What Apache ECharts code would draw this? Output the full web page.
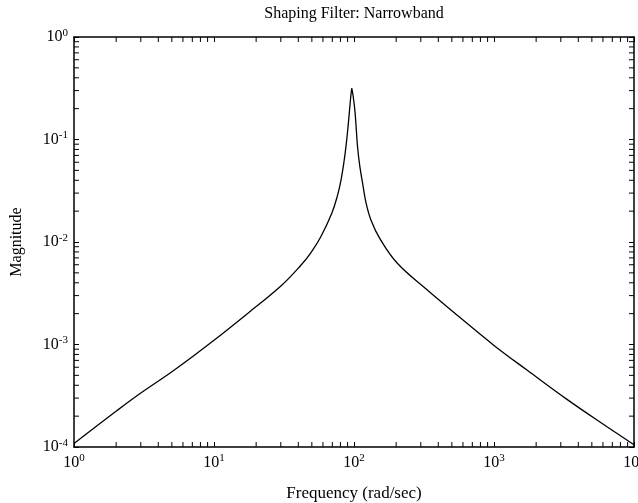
<!DOCTYPE html>
<html>
<head>
<meta charset="utf-8">
<script src="https://cdn.jsdelivr.net/npm/echarts@6/dist/echarts.min.js"></script>
<style>
  body { margin: 0; padding: 0; background: #fff; }
  #chart { width: 638px; height: 503px; }
</style>
</head>
<body>
<div id="chart"></div>
<script>
// frequency (rad/sec) and magnitude
var freq = [1, 2.04, 3.0, 5.18, 10, 17.3, 29.9, 41.6, 49, 57.8, 69.3, 76, 80.7, 85, 88, 90.5, 92.5, 94.5, 96.3, 98.4, 101.9, 106, 110, 115, 122, 133, 153, 204, 334, 518, 1000, 1730, 3340, 6450, 10000];
var mag = [1.08e-4, 2.28e-4, 3.36e-4, 5.6e-4, 1.1e-3, 2.0e-3, 3.7e-3, 5.9e-3, 7.8e-3, 0.0112, 0.019, 0.028, 0.040, 0.062, 0.09, 0.13, 0.18, 0.25, 0.315, 0.27, 0.18, 0.085, 0.055, 0.038, 0.024, 0.016, 0.0108, 6.2e-3, 3.4e-3, 2.05e-3, 9.8e-4, 5.6e-4, 2.9e-4, 1.57e-4, 1.05e-4];

// minor tick positions (2..9 in each decade)
var mults = [2, 3, 4, 5, 6, 7, 8, 9];
var xDecades = [1, 10, 100, 1000];
var yDecades = [1e-4, 1e-3, 1e-2, 1e-1];

var xMinor = [];
xDecades.forEach(function (d) { mults.forEach(function (m) { xMinor.push(m * d); }); });
var yMinor = [];
yDecades.forEach(function (d) { mults.forEach(function (m) { yMinor.push(m * d); }); });

// split the curve at the resonance peak so the tip stays sharp
var points = freq.map(function (f, i) { return [f, mag[i]]; });
var peak = mag.indexOf(Math.max.apply(null, mag));
var rising = points.slice(0, peak + 1);
var falling = points.slice(peak);

var font = 'Liberation Serif';
var tickLen = 5;

function powLabel(v) {
  var e = Math.round(Math.log10(v));
  return '{b|10}{s|' + e + '}';
}
var rich = {
  b: { fontFamily: font, fontSize: 16, color: '#000' },
  s: { fontFamily: font, fontSize: 11, color: '#000', padding: [0, 0, 8, 0] }
};

var line = { lineStyle: { color: '#000', width: 1.5 } };

var chart = echarts.init(document.getElementById('chart'));

var curve = {
  type: 'line',
  showSymbol: false,
  smooth: 0.4,
  lineStyle: { color: '#000', width: 1.3 },
  silent: true
};

var option = {
  backgroundColor: '#fff',
  animation: false,
  title: {
    text: 'Shaping Filter: Narrowband',
    left: 354,
    textAlign: 'center',
    top: 6,
    padding: 0,
    textStyle: { fontFamily: font, fontSize: 16, fontWeight: 'normal', color: '#000' }
  },
  grid: { left: 74, right: 4, top: 37, bottom: 56, containLabel: false, outerBoundsMode: 'none' },
  xAxis: [
    {
      type: 'log', logBase: 10, min: 1, max: 10000, interval: 1,
      position: 'bottom',
      name: 'Frequency (rad/sec)', nameLocation: 'middle', nameGap: 38,
      nameTextStyle: { fontFamily: font, fontSize: 17, color: '#000' },
      axisLine: line,
      axisTick: { inside: true, length: tickLen, lineStyle: { color: '#000' } },
      axisLabel: { margin: 6, formatter: powLabel, rich: rich, showMaxLabel: true },
      splitLine: { show: false }
    },
    {
      type: 'log', logBase: 10, min: 1, max: 10000, interval: 1,
      position: 'top',
      axisLine: line,
      axisTick: { inside: true, length: tickLen, lineStyle: { color: '#000' } },
      axisLabel: { show: false },
      splitLine: { show: false }
    }
  ],
  yAxis: [
    {
      type: 'log', logBase: 10, min: 1e-4, max: 1, interval: 1,
      position: 'left',
      name: 'Magnitude', nameLocation: 'middle', nameGap: 49,
      nameTextStyle: { fontFamily: font, fontSize: 16, color: '#000' },
      axisLine: line,
      axisTick: { inside: true, length: tickLen, lineStyle: { color: '#000' } },
      axisLabel: { margin: 6, formatter: powLabel, rich: rich },
      splitLine: { show: false }
    },
    {
      type: 'log', logBase: 10, min: 1e-4, max: 1, interval: 1,
      position: 'right',
      axisLine: line,
      axisTick: { inside: true, length: tickLen, lineStyle: { color: '#000' } },
      axisLabel: { show: false },
      splitLine: { show: false }
    }
  ],
  series: [
    Object.assign({ data: rising }, curve),
    Object.assign({ data: falling }, curve),
    {
      // minor ticks on bottom and top
      type: 'custom',
      silent: true,
      data: xMinor.map(function (v) { return [v, 1e-2]; }),
      renderItem: function (params, api) {
        var v = api.value(0);
        var b = api.coord([v, 1e-4]);
        var t = api.coord([v, 1]);
        var st = { stroke: '#000', lineWidth: 1 };
        return {
          type: 'group',
          children: [
            { type: 'line', shape: { x1: b[0], y1: b[1], x2: b[0], y2: b[1] - tickLen }, style: st },
            { type: 'line', shape: { x1: t[0], y1: t[1], x2: t[0], y2: t[1] + tickLen }, style: st }
          ]
        };
      }
    },
    {
      // minor ticks on left and right
      type: 'custom',
      silent: true,
      data: yMinor.map(function (v) { return [10, v]; }),
      renderItem: function (params, api) {
        var v = api.value(1);
        var l = api.coord([1, v]);
        var r = api.coord([10000, v]);
        var st = { stroke: '#000', lineWidth: 1 };
        return {
          type: 'group',
          children: [
            { type: 'line', shape: { x1: l[0], y1: l[1], x2: l[0] + tickLen, y2: l[1] }, style: st },
            { type: 'line', shape: { x1: r[0], y1: r[1], x2: r[0] - tickLen, y2: r[1] }, style: st }
          ]
        };
      }
    }
  ]
};

chart.setOption(option);
</script>
</body>
</html>
